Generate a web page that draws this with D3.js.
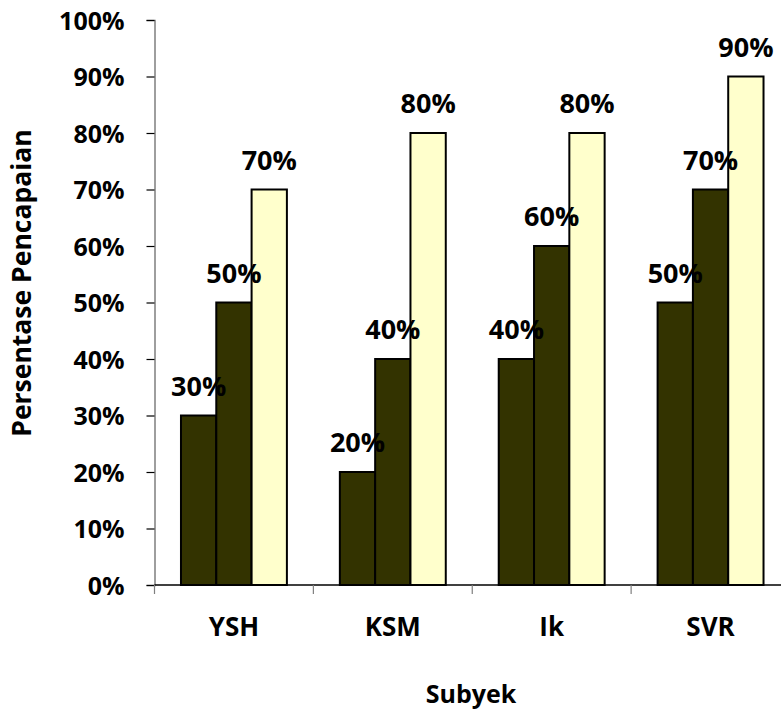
<!DOCTYPE html>
<html>
<head>
<meta charset="utf-8">
<script src="https://cdn.jsdelivr.net/npm/d3@7"></script>
<style>
  html, body { margin: 0; padding: 0; background: #fff; }
  svg text { font-family: "Open Sans", Lato, sans-serif; font-weight: bold; fill: #000; }
</style>
</head>
<body>
<svg id="chart" width="781" height="710"></svg>
<script>
// Subjects and achievement percentages for each of the three phases
const subjects = ["YSH", "KSM", "Ik", "SVR"];
const phaseNames = ["Tahap 1", "Tahap 2", "Tahap 3"];
const phase1 = [30, 20, 40, 50];
const phase2 = [50, 40, 60, 70];
const phase3 = [70, 80, 80, 90];
const yTicks = [0, 10, 20, 30, 40, 50, 60, 70, 80, 90, 100];
const phaseColors = ["#333300", "#333300", "#FFFFCC"];

const svg = d3.select("#chart");
const plotLeft = 154.5, plotTop = 20, plotBottom = 585, plotRight = 790;

const x = d3.scaleBand().domain(subjects).range([plotLeft, plotRight]).paddingInner(0).paddingOuter(0);
const xInner = d3.scaleBand().domain(phaseNames).range([0, x.bandwidth()]).paddingInner(0).paddingOuter(0.75);
const y = d3.scaleLinear().domain([0, 100]).range([plotBottom, plotTop]);

const rows = subjects.map((s, i) => ({ subject: s, values: [phase1[i], phase2[i], phase3[i]] }));

// Y axis
const yAxis = svg.append("g").attr("transform", `translate(${plotLeft},0)`)
  .call(d3.axisLeft(y).tickValues(yTicks).tickFormat(d => d + "%").tickSize(8).tickPadding(22));
yAxis.select(".domain").attr("stroke", "#7f7f7f").attr("stroke-width", 1.5);
yAxis.selectAll(".tick line").attr("stroke", "#000").attr("stroke-width", 1.2);
yAxis.selectAll(".tick text").style("font-size", "25px").attr("dy", "0.36em");

// X axis with ticks between categories
const xAxisG = svg.append("g").attr("transform", `translate(0,${plotBottom})`);
xAxisG.append("line").attr("x1", plotLeft).attr("x2", 781).attr("y1", 0).attr("y2", 0)
  .attr("stroke", "#000").attr("stroke-width", 1.5);
xAxisG.selectAll("line.sep").data(subjects).join("line").attr("class", "sep")
  .attr("x1", d => x(d)).attr("x2", d => x(d)).attr("y1", 0).attr("y2", 9)
  .attr("stroke", "#7f7f7f").attr("stroke-width", 1.2);
xAxisG.selectAll("text").data(subjects).join("text")
  .attr("x", d => x(d) + x.bandwidth() / 2).attr("y", 51)
  .attr("text-anchor", "middle").style("font-size", "26px").text(d => d);

// Bars
const groups = svg.selectAll("g.grp").data(rows).join("g").attr("class", "grp")
  .attr("transform", d => `translate(${x(d.subject)},0)`);
groups.selectAll("rect").data(d => d.values.map((v, j) => ({ v, j })))
  .join("rect")
  .attr("x", d => xInner(phaseNames[d.j]))
  .attr("width", xInner.bandwidth())
  .attr("y", d => y(d.v))
  .attr("height", d => y(0) - y(d.v))
  .attr("fill", d => phaseColors[d.j])
  .attr("stroke", "#000").attr("stroke-width", 2);

// Value labels
groups.selectAll("text.val").data(d => d.values.map((v, j) => ({ v, j })))
  .join("text").attr("class", "val")
  .attr("x", d => xInner(phaseNames[d.j]) + xInner.bandwidth() / 2)
  .attr("y", d => y(d.v) - 20)
  .attr("text-anchor", "middle").style("font-size", "27px")
  .text(d => d.v + "%");

// Axis titles
svg.append("text").attr("transform", "translate(31,283) rotate(-90)")
  .attr("text-anchor", "middle").style("font-size", "26.5px").text("Persentase Pencapaian");
svg.append("text").attr("x", 471).attr("y", 703)
  .attr("text-anchor", "middle").style("font-size", "25px").text("Subyek");
</script>
</body>
</html>
